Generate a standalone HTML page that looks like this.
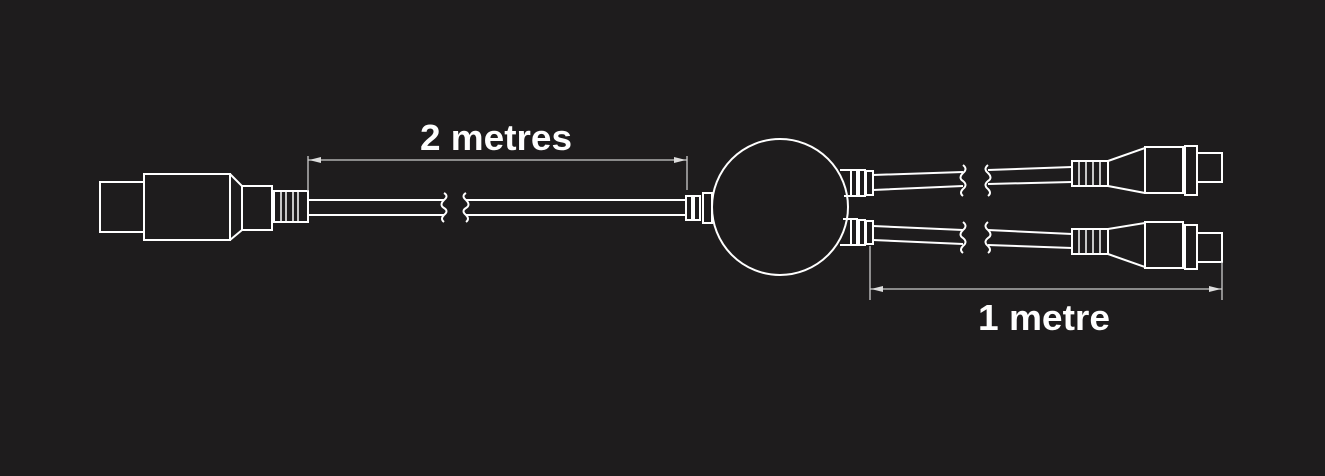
<!DOCTYPE html>
<html><head><meta charset="utf-8"><style>
html,body{margin:0;padding:0;background:#1e1c1d;}
svg{display:block;}
</style></head><body>
<svg width="1325" height="476" viewBox="0 0 1325 476" xmlns="http://www.w3.org/2000/svg">
<rect width="1325" height="476" fill="#1e1c1d"/>
<g fill="none" stroke="#fff" stroke-width="2">
<!-- left plug -->
<rect x="100" y="182" width="44" height="50"/>
<rect x="144" y="174" width="86" height="66"/>
<path d="M230 174 L242 186 L242 230 L230 240"/>
<rect x="242" y="186" width="30" height="44"/>
<rect x="274" y="191" width="34" height="31"/>
<line x1="281" y1="191" x2="281" y2="222" stroke-width="1.5"/>
<line x1="286" y1="191" x2="286" y2="222" stroke-width="1.5"/>
<line x1="293" y1="191" x2="293" y2="222" stroke-width="1.5"/>
<line x1="298" y1="191" x2="298" y2="222" stroke-width="1.5"/>
<!-- cable 1 -->
<path d="M308 200 H444 M308 215 H444"/>
<path d="M444 193 q5 3 0 7 q-5 5 0 8 q5 3 0 7 q-4 4 0 7"/>
<path d="M466 193 q-5 3 0 7 q5 5 0 8 q-5 3 0 7 q4 4 0 7"/>
<path d="M466 200 H686 M466 215 H686"/>
<!-- hub left connector -->
<rect x="686" y="196" width="6" height="24"/>
<rect x="694" y="196" width="6" height="24"/>
<rect x="703" y="193" width="9" height="30"/>
<circle cx="780" cy="207" r="68"/>
<!-- hub right top -->
<path d="M840 170 H851 V196 H844"/>
<rect x="851" y="170" width="6" height="26"/>
<rect x="859" y="170" width="6" height="26"/>
<rect x="866" y="171" width="7" height="24"/>
<path d="M873 175 L963 172 M873 190 L963 186"/>
<path d="M963 165 q5 4 0 8 q-5 5 0 8 q5 4 0 8 q-4 4 0 7"/>
<path d="M988 165 q-5 4 0 8 q5 5 0 8 q-5 4 0 8 q4 4 0 7"/>
<path d="M988 170 L1072 167 M988 184 L1072 182"/>
<!-- hub right bottom -->
<path d="M843 219 H851 V245 H840"/>
<rect x="851" y="219" width="6" height="26"/>
<rect x="859" y="220" width="6" height="25"/>
<rect x="866" y="221" width="7" height="23"/>
<path d="M873 226 L963 230 M873 240 L963 244"/>
<path d="M963 222 q5 4 0 8 q-5 5 0 8 q5 4 0 8 q-4 4 0 7"/>
<path d="M988 222 q-5 4 0 8 q5 5 0 8 q-5 4 0 8 q4 4 0 7"/>
<path d="M988 230 L1072 234 M988 245 L1072 248"/>
<!-- right top plug -->
<rect x="1072" y="161" width="36" height="25"/>
<line x1="1079" y1="161" x2="1079" y2="186" stroke-width="1.5"/>
<line x1="1086" y1="161" x2="1086" y2="186" stroke-width="1.5"/>
<line x1="1093" y1="161" x2="1093" y2="186" stroke-width="1.5"/>
<line x1="1100" y1="161" x2="1100" y2="186" stroke-width="1.5"/>
<path d="M1108 161 L1145 148 M1108 186 L1145 193"/>
<rect x="1145" y="147" width="38" height="46"/>
<rect x="1185" y="146" width="12" height="49"/>
<rect x="1197" y="153" width="25" height="29"/>
<!-- right bottom plug -->
<rect x="1072" y="229" width="36" height="25"/>
<line x1="1079" y1="229" x2="1079" y2="254" stroke-width="1.5"/>
<line x1="1086" y1="229" x2="1086" y2="254" stroke-width="1.5"/>
<line x1="1093" y1="229" x2="1093" y2="254" stroke-width="1.5"/>
<line x1="1100" y1="229" x2="1100" y2="254" stroke-width="1.5"/>
<path d="M1108 229 L1145 223 M1108 254 L1145 267"/>
<rect x="1145" y="222" width="38" height="46"/>
<rect x="1185" y="225" width="12" height="44"/>
<rect x="1197" y="233" width="25" height="29"/>
</g>
<!-- dimensions -->
<g stroke="#ccc" stroke-width="1.3" fill="none">
<path d="M308 156 V191 M687 156 V190 M308 160 H687"/>
<path d="M870 246 V300 M1222 262 V300 M870 289 H1222"/>
</g>
<g fill="#ddd">
<path d="M309 160 L321 157 L321 163 Z"/>
<path d="M686 160 L674 157 L674 163 Z"/>
<path d="M871 289 L883 286 L883 292 Z"/>
<path d="M1221 289 L1209 286 L1209 292 Z"/>
</g>
<g fill="#fff" font-family="Liberation Sans, sans-serif" font-weight="bold">
<text x="420" y="150" font-size="36" textLength="152" lengthAdjust="spacingAndGlyphs">2 metres</text>
<text x="978" y="330" font-size="36" textLength="132" lengthAdjust="spacingAndGlyphs">1 metre</text>
</g>
</svg>
</body></html>
